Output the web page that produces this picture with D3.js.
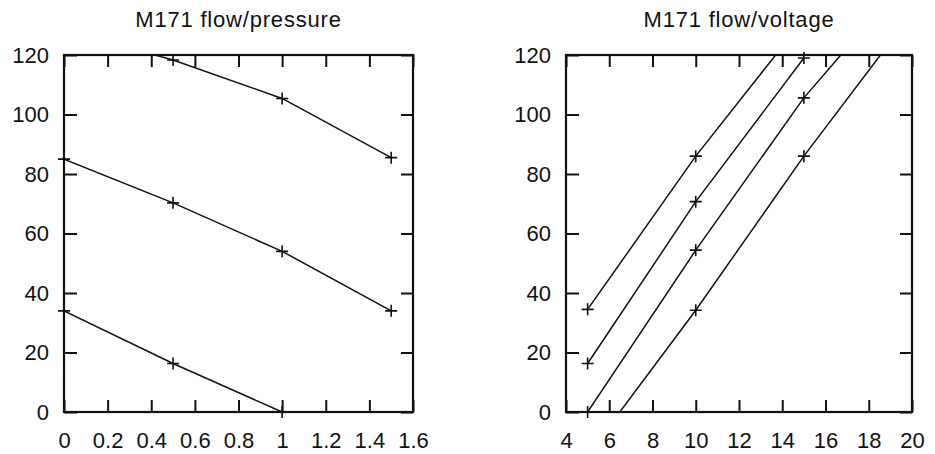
<!DOCTYPE html>
<html>
<head>
<meta charset="utf-8">
<script src="https://cdn.jsdelivr.net/npm/d3@7"></script>
<style>
  body { margin: 0; background: #fff; }
  text { font-family: "Liberation Sans", Arial, sans-serif; fill: #111; }
</style>
</head>
<body>
<div id="my_dataviz"></div>
<script>
// ---- data ----
// left panel: flow against pressure, one line per voltage
const pressure = [0, 0.5, 1, 1.5];
const flow5V = [34, 16.3, 0, -14.5];
const flow10V = [85, 70.3, 54, 34];
const flow15V = [128.5, 118.3, 105.4, 85.5];

// right panel: flow against voltage, one line per pressure
const voltage = [5, 10, 15, 20];
const flow0bar = [34.5, 86, 132, null];
const flow05bar = [16.3, 70.7, 119, null];
const flow1bar = [0, 54.4, 105.6, 147.7];
const flow15bar = [-14.5, 34.2, 86, 134];

const pressureTicks = [0, 0.2, 0.4, 0.6, 0.8, 1, 1.2, 1.4, 1.6];
const voltageTicks = [4, 6, 8, 10, 12, 14, 16, 18, 20];
const flowTicks = [0, 20, 40, 60, 80, 100, 120];

const svg = d3
  .select('#my_dataviz')
  .append('svg')
  .attr('width', 935)
  .attr('height', 454)
  .style('background', '#fff');

function drawPanel(opt) {
  const width = opt.right - opt.left,
    height = 412 - 55;

  const g = svg
    .append('g')
    .attr('transform', `translate(${opt.left}, 55)`);

  const x = d3.scaleLinear().domain(opt.xDomain).range([0, width]);
  const y = d3.scaleLinear().domain([0, 120]).range([height, 0]);

  // title
  svg
    .append('text')
    .attr('x', opt.left + width / 2)
    .attr('y', 27)
    .attr('text-anchor', 'middle')
    .style('font-size', '22px')
    .style('letter-spacing', '0.8px')
    .text(opt.title);

  // ticks pointing inward on all four sides
  const fmt = d => String(d);
  g.append('g')
    .attr('transform', `translate(0, ${height})`)
    .call(d3.axisBottom(x).tickValues(opt.xTicks).tickFormat(fmt).tickSizeInner(-12).tickSizeOuter(0).tickPadding(20));
  g.append('g')
    .call(d3.axisTop(x).tickValues(opt.xTicks).tickFormat('').tickSizeInner(-12).tickSizeOuter(0));
  g.append('g')
    .call(d3.axisLeft(y).tickValues(flowTicks).tickFormat(fmt).tickSizeInner(-13).tickSizeOuter(0).tickPadding(15));
  g.append('g')
    .attr('transform', `translate(${width}, 0)`)
    .call(d3.axisRight(y).tickValues(flowTicks).tickFormat('').tickSizeInner(-12).tickSizeOuter(0));

  g.selectAll('.domain').remove();
  g.selectAll('.tick line').attr('stroke', '#111').attr('stroke-width', 2);
  g.selectAll('.tick text').style('font-size', '22px').attr('fill', '#111');

  // clip for the data lines
  g.append('clipPath')
    .attr('id', opt.id + '-clip')
    .append('rect')
    .attr('width', width)
    .attr('height', height);

  const line = d3
    .line()
    .defined(d => d[1] != null)
    .x(d => x(d[0]))
    .y(d => y(d[1]));

  opt.series.forEach(vals => {
    const pts = opt.xs.map((v, i) => [v, vals[i]]);
    g.append('path')
      .datum(pts)
      .attr('clip-path', `url(#${opt.id}-clip)`)
      .attr('fill', 'none')
      .attr('stroke', '#111')
      .attr('stroke-width', 1.5)
      .attr('d', line);

    // plus markers, only where the point lies inside the frame
    g.append('g')
      .selectAll('path')
      .data(pts.filter(d => d[1] != null && d[1] >= 0 && d[1] <= 120))
      .enter()
      .append('path')
      .attr('d', d => {
        const px = x(d[0]), py = y(d[1]);
        return `M${px - 6},${py}H${px + 6}M${px},${py - 6}V${py + 6}`;
      })
      .attr('stroke', '#111')
      .attr('stroke-width', 1.6);
  });

  // frame
  g.append('rect')
    .attr('width', width)
    .attr('height', height)
    .attr('fill', 'none')
    .attr('stroke', '#111')
    .attr('stroke-width', 2.2);
}

drawPanel({
  id: 'pressure',
  title: 'M171 flow/pressure',
  left: 64,
  right: 413,
  xDomain: [0, 1.6],
  xTicks: pressureTicks,
  xs: pressure,
  series: [flow5V, flow10V, flow15V],
});

drawPanel({
  id: 'voltage',
  title: 'M171 flow/voltage',
  left: 566,
  right: 912,
  xDomain: [4, 20],
  xTicks: voltageTicks,
  xs: voltage,
  series: [flow0bar, flow05bar, flow1bar, flow15bar],
});
</script>
</body>
</html>
